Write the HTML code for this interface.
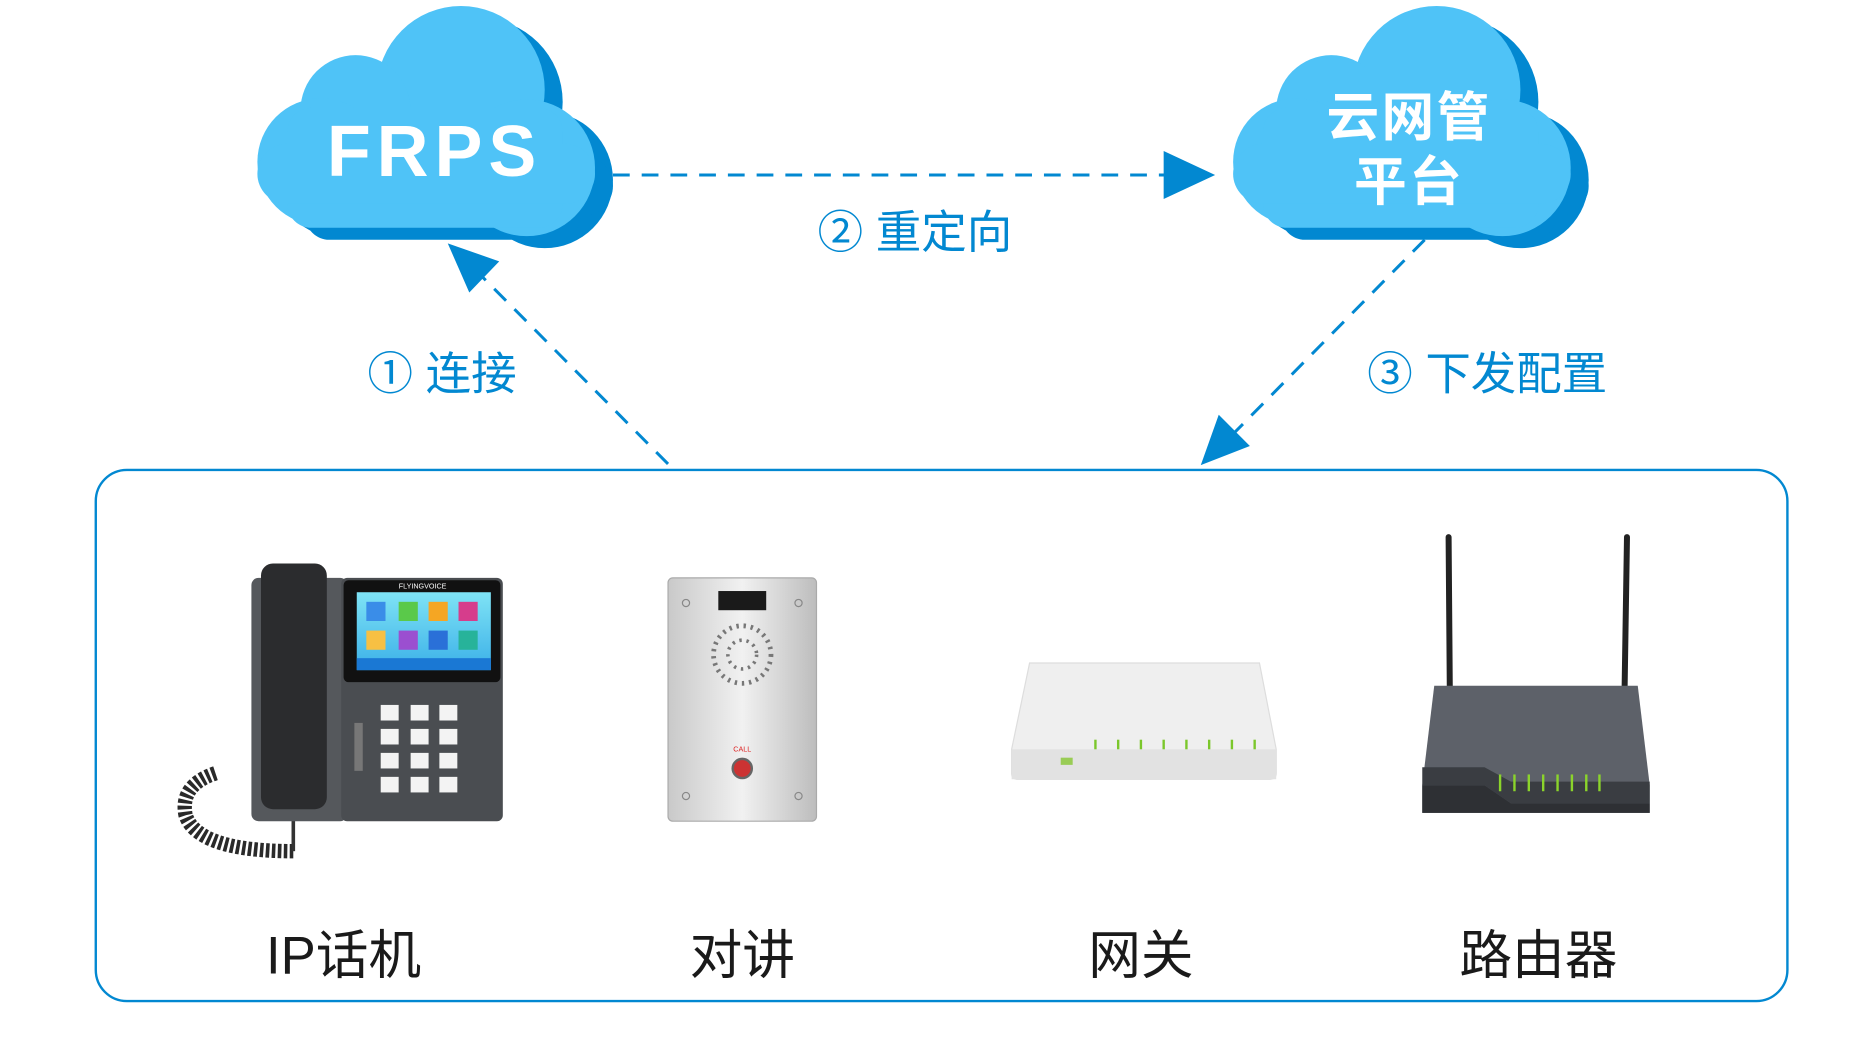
<!DOCTYPE html>
<html><head><meta charset="utf-8"><style>
html,body{margin:0;padding:0;background:#fff;width:1876px;height:1043px;overflow:hidden}
svg{display:block}
text{font-family:"Liberation Sans","Noto Sans CJK SC",sans-serif}
</style></head><body>
<svg width="1876" height="1043" viewBox="0 0 1567 870" preserveAspectRatio="none" xmlns="http://www.w3.org/2000/svg">
<defs>
<g id="cloud">
<circle cx="385" cy="75" r="70"/>
<circle cx="297" cy="92" r="46"/>
<circle cx="440" cy="140" r="57"/>
<circle cx="268" cy="135" r="53"/>
<rect x="240" y="90" width="230" height="100" rx="20"/>
<rect x="215" y="120" width="282" height="50" rx="25"/>
</g>
<linearGradient id="silver" x1="0" x2="1"><stop offset="0" stop-color="#c9c9c9"/><stop offset="0.5" stop-color="#f1f1f1"/><stop offset="1" stop-color="#bdbdbd"/></linearGradient>
<linearGradient id="scr" x1="0" y1="0" x2="0" y2="1"><stop offset="0" stop-color="#7fe3f5"/><stop offset="1" stop-color="#3bb0e8"/></linearGradient>
</defs>
<g fill="#0288d1" transform="translate(15,10)"><use href="#cloud"/></g>
<g fill="#4fc3f7"><use href="#cloud"/></g>
<g transform="translate(815,0)">
<g fill="#0288d1" transform="translate(15,10)"><use href="#cloud"/></g>
<g fill="#4fc3f7"><use href="#cloud"/></g>
</g>
<text x="363" y="147" font-size="60" font-weight="bold" fill="#fff" text-anchor="middle" letter-spacing="5">FRPS</text>
<text x="1177" y="113" font-size="44" font-weight="bold" fill="#fff" text-anchor="middle" letter-spacing="2">云网管</text>
<text x="1177" y="167" font-size="44" font-weight="bold" fill="#fff" text-anchor="middle" letter-spacing="2">平台</text>
<g stroke="#0288d1" stroke-width="2.5" stroke-dasharray="14,10" fill="none">
<line x1="512" y1="146" x2="975" y2="146"/>
<line x1="558" y1="387" x2="400" y2="228"/>
<line x1="1190" y1="200" x2="1030" y2="362"/>
</g>
<g fill="#0288d1">
<polygon points="1015,146 972,126 972,166"/>
<polygon points="374,203 417,218 392,244"/>
<polygon points="1003,388 1018,346 1044,372"/>
</g>
<g fill="#0288d1" font-size="38">
<text x="683" y="207">② 重定向</text>
<text x="307" y="325">① 连接</text>
<text x="1142" y="325">③ 下发配置</text>
</g>
<rect x="80" y="392" width="1413" height="443" rx="26" fill="none" stroke="#0288d1" stroke-width="2"/>
<path d="M180,645 q-30,10 -25,35 q10,30 90,30" fill="none" stroke="#2a2a2a" stroke-width="12" stroke-dasharray="3,2"/>
<line x1="245" y1="670" x2="245" y2="710" stroke="#333" stroke-width="3"/>
<rect x="210" y="482" width="80" height="203" rx="6" fill="#55585c"/>
<rect x="218" y="470" width="55" height="205" rx="10" fill="#2b2c2e"/>
<rect x="285" y="482" width="135" height="203" rx="5" fill="#4a4d51"/>
<rect x="287" y="484" width="131" height="85" rx="4" fill="#111"/>
<rect x="298" y="494" width="112" height="65" fill="url(#scr)"/>
<rect x="298" y="549" width="112" height="10" fill="#1a78d4"/>
<g><rect x="306" y="502" width="16" height="16" fill="#3a8de8"/><rect x="333" y="502" width="16" height="16" fill="#5ac94a"/><rect x="358" y="502" width="16" height="16" fill="#f5a623"/><rect x="383" y="502" width="16" height="16" fill="#d63d8c"/>
<rect x="306" y="526" width="16" height="16" fill="#f7c043"/><rect x="333" y="526" width="16" height="16" fill="#9b4fd0"/><rect x="358" y="526" width="16" height="16" fill="#2a70d8"/><rect x="383" y="526" width="16" height="16" fill="#27b39a"/></g>
<text x="353" y="491" font-size="6" fill="#fff" text-anchor="middle">FLYINGVOICE</text>
<g fill="#f3f3f3">
<rect x="318" y="588" width="15" height="13"/><rect x="343" y="588" width="15" height="13"/><rect x="367" y="588" width="15" height="13"/>
<rect x="318" y="608" width="15" height="13"/><rect x="343" y="608" width="15" height="13"/><rect x="367" y="608" width="15" height="13"/>
<rect x="318" y="628" width="15" height="13"/><rect x="343" y="628" width="15" height="13"/><rect x="367" y="628" width="15" height="13"/>
<rect x="318" y="648" width="15" height="13"/><rect x="343" y="648" width="15" height="13"/><rect x="367" y="648" width="15" height="13"/>
</g>
<rect x="296" y="603" width="7" height="40" fill="#777"/>
<rect x="558" y="482" width="124" height="203" rx="4" fill="url(#silver)" stroke="#aaa"/>
<rect x="600" y="493" width="40" height="16" fill="#1a1a1a"/>
<circle cx="620" cy="546" r="24" fill="none" stroke="#777" stroke-width="4" stroke-dasharray="2,4"/>
<circle cx="620" cy="546" r="12" fill="none" stroke="#777" stroke-width="3" stroke-dasharray="2,4"/>
<text x="620" y="627" font-size="6" fill="#d22" text-anchor="middle">CALL</text>
<circle cx="620" cy="641" r="8" fill="#c33" stroke="#666" stroke-width="2"/>
<g fill="none" stroke="#888"><circle cx="573" cy="503" r="3"/><circle cx="667" cy="503" r="3"/><circle cx="573" cy="664" r="3"/><circle cx="667" cy="664" r="3"/></g>
<path d="M860,553 H1052 L1066,625 V645 Q1066,650 1060,650 H850 Q845,650 845,645 V625 Z" fill="#efefef" stroke="#ddd"/>
<rect x="845" y="625" width="221" height="25" fill="#e2e2e2"/>
<g stroke="#7bc72b" stroke-width="2"><line x1="915" y1="617" x2="915" y2="625"/><line x1="934" y1="617" x2="934" y2="625"/><line x1="953" y1="617" x2="953" y2="625"/><line x1="972" y1="617" x2="972" y2="625"/><line x1="991" y1="617" x2="991" y2="625"/><line x1="1010" y1="617" x2="1010" y2="625"/><line x1="1029" y1="617" x2="1029" y2="625"/><line x1="1048" y1="617" x2="1048" y2="625"/></g>
<rect x="886" y="632" width="10" height="6" fill="#9c5"/>
<g stroke="#222" stroke-width="5" stroke-linecap="round"><line x1="1210" y1="448" x2="1211" y2="575"/><line x1="1359" y1="448" x2="1357" y2="575"/></g>
<path d="M1198,572 H1368 L1378,655 V678 H1188 V655 Z" fill="#5d6169"/>
<path d="M1188,655 H1240 L1262,670 H1378 V678 H1188 Z" fill="#2e3034"/>
<path d="M1188,640 H1240 L1262,652 H1378 V670 H1262 L1240,655 H1188 Z" fill="#3a3d42"/>
<g stroke="#8bd42b" stroke-width="2"><line x1="1253" y1="646" x2="1253" y2="660"/><line x1="1265" y1="646" x2="1265" y2="660"/><line x1="1277" y1="646" x2="1277" y2="660"/><line x1="1289" y1="646" x2="1289" y2="660"/><line x1="1301" y1="646" x2="1301" y2="660"/><line x1="1313" y1="646" x2="1313" y2="660"/><line x1="1325" y1="646" x2="1325" y2="660"/><line x1="1336" y1="646" x2="1336" y2="660"/></g>
<g font-size="44" fill="#1a1a1a" text-anchor="middle">
<text x="287" y="812">IP话机</text>
<text x="620" y="812">对讲</text>
<text x="953" y="812">网关</text>
<text x="1285" y="812">路由器</text>
</g>
</svg>
</body></html>
